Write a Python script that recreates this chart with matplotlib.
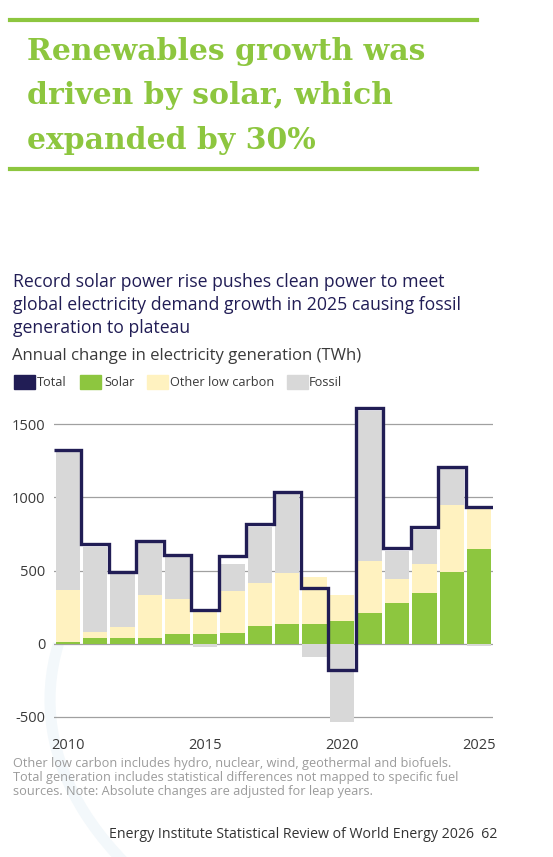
import numpy as np
import matplotlib
matplotlib.use('Agg')
import matplotlib.pyplot as plt
from matplotlib.patches import Rectangle, Arc

plt.rcParams['axes.unicode_minus'] = False

# --- Data (TWh, annual change) ---
years = np.arange(2010, 2026)
solar = [14, 41, 39, 36, 64, 64, 71, 119, 132, 132, 157, 207, 280, 344, 492, 647]
other_low_carbon = [353, 41, 77, 297, 241, 159, 291, 294, 349, 326, 176, 358, 160, 199, 456, 278]
fossil = [946, 581, 360, 353, 290, -25, 181, 387, 540, -93, -533, 1028, 196, 234, 244, -14]
total = [1324, 679, 488, 700, 604, 233, 600, 818, 1037, 378, -180, 1609, 656, 796, 1210, 937]
y_ticks = [-500, 0, 500, 1000, 1500]
x_ticks = [2010, 2015, 2020, 2025]

# --- Colours ---
GREEN = '#8dc63f'
YELLOW = '#fff2c0'
GREY = '#d8d8d8'
NAVY = '#211d55'
TEXT = '#3a3a3a'

W, H = 553, 857
fig = plt.figure(figsize=(W / 100, H / 100), dpi=100)
fig.patch.set_facecolor('white')


def fx(px):
    return px / W


def fy(py):
    return 1 - py / H


# faint background swooshes
bg = fig.add_axes([0, 0, 1, 1], zorder=-5)
bg.set_xlim(0, W)
bg.set_ylim(H, 0)
bg.axis('off')
bg.add_patch(Arc((700, 700), 1300, 700, theta1=150, theta2=185, color='#f3f8fb', lw=8))
bg.add_patch(Arc((640, 1150), 900, 1100, theta1=118, theta2=150, color='#f4f9fc', lw=5))

# --- Headline ---
fig.add_artist(plt.Line2D([fx(10), fx(477)], [fy(20), fy(20)], color=GREEN, lw=3))
fig.add_artist(plt.Line2D([fx(10), fx(477)], [fy(169), fy(169)], color=GREEN, lw=3))
headline = ['Renewables growth was', 'driven by solar, which', 'expanded by 30%']
for i, line in enumerate(headline):
    fig.text(fx(27), fy(60 + 44.5 * i), line, family='DejaVu Serif', weight='bold',
             fontsize=21.5, color=GREEN, va='baseline', ha='left')

# --- Chart titles ---
subtitle = ['Record solar power rise pushes clean power to meet',
            'global electricity demand growth in 2025 causing fossil',
            'generation to plateau']
for i, line in enumerate(subtitle):
    fig.text(fx(13), fy(282 + 23 * i), line, family='Open Sans', fontsize=12.7,
             color=NAVY, va='center', ha='left')
fig.text(fx(12), fy(356), 'Annual change in electricity generation (TWh)', family='Open Sans',
         fontsize=12, color=TEXT, va='center', ha='left')

# --- Legend ---
legend_items = [('Total', NAVY, 14, 37), ('Solar', GREEN, 80, 104),
                ('Other low carbon', YELLOW, 147, 170), ('Fossil', GREY, 287, 309)]
for label, col, sx, tx in legend_items:
    fig.add_artist(Rectangle((fx(sx), fy(389)), fx(21), 14 / H, color=col,
                             transform=fig.transFigure))
    fig.text(fx(tx), fy(382), label, family='Open Sans', fontsize=9.2, color=TEXT,
             va='center', ha='left')

# --- Chart ---
ax = fig.add_axes([fx(54), fy(725.5), fx(439), (725.5 - 403) / H])
ax.set_facecolor('none')
solar_a = np.array(solar)
other_a = np.array(other_low_carbon)
fossil_a = np.array(fossil)
fossil_bottom = np.where(fossil_a > 0, solar_a + other_a, 0)

bw = 0.89
ax.bar(years, solar_a, width=bw, color=GREEN, zorder=2)
ax.bar(years, other_a, bottom=solar_a, width=bw, color=YELLOW, zorder=2)
ax.bar(years, fossil_a, bottom=fossil_bottom, width=bw, color=GREY, zorder=2)
ax.stairs(total, np.append(years - 0.5, years[-1] + 0.5), baseline=None,
          color=NAVY, lw=2.4, zorder=3)

ax.set_xlim(2009.5, 2025.5)
ax.set_ylim(-559, 1646)
ax.set_yticks(y_ticks)
ax.set_xticks(x_ticks)
ax.yaxis.grid(True, color='#a0a0a0', lw=0.9, zorder=0)
ax.set_axisbelow(True)
for s in ax.spines.values():
    s.set_visible(False)
ax.tick_params(length=0, labelsize=10.5, labelcolor=TEXT)
ax.tick_params(axis='y', pad=6)
ax.tick_params(axis='x', pad=9)
for lab in ax.get_xticklabels() + ax.get_yticklabels():
    lab.set_family('Open Sans')

# --- Notes ---
notes = ['Other low carbon includes hydro, nuclear, wind, geothermal and biofuels.',
         'Total generation includes statistical differences not mapped to specific fuel',
         'sources. Note: Absolute changes are adjusted for leap years.']
for i, line in enumerate(notes):
    fig.text(fx(13), fy(763 + 14.5 * i), line, family='Open Sans', fontsize=9.2,
             color='#9b9b9b', va='center', ha='left')

fig.text(fx(497), fy(834), 'Energy Institute Statistical Review of World Energy 2026  62',
         family='Open Sans', fontsize=10.2, color='#333333', va='center', ha='right')

fig.savefig('out.png', dpi=100)
